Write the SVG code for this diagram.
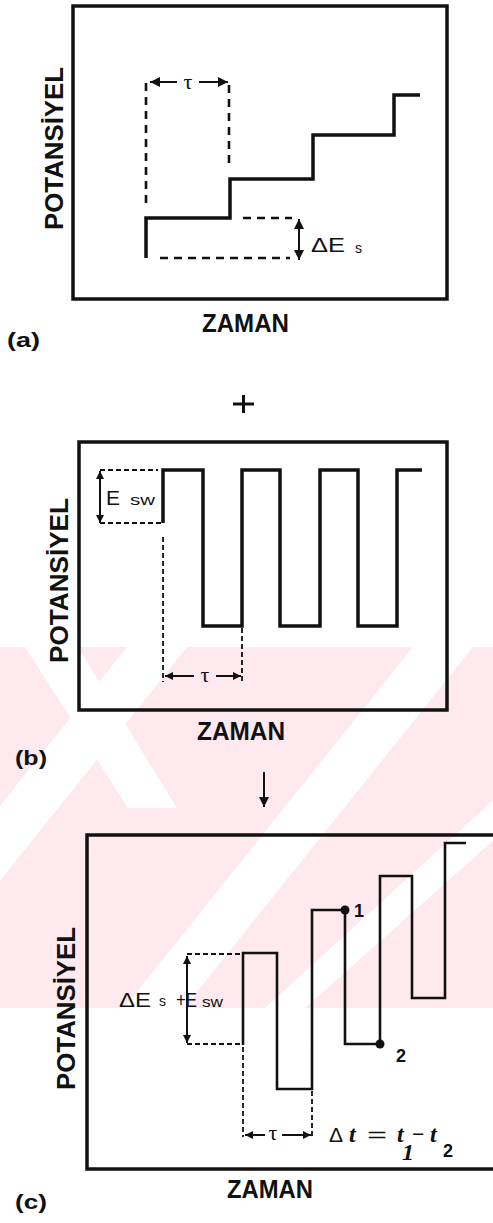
<svg xmlns="http://www.w3.org/2000/svg" width="493" height="1223" viewBox="0 0 493 1223">
<defs>
<style>
.frame{fill:none;stroke:#111;stroke-width:3.5}
.wave{fill:none;stroke:#111;stroke-width:3.5;stroke-linejoin:miter;stroke-linecap:butt}
.wavec{fill:none;stroke:#111;stroke-width:2.6;stroke-linejoin:miter}
.dasha{fill:none;stroke:#111;stroke-width:2.6;stroke-dasharray:8 6}
.dash{fill:none;stroke:#111;stroke-width:1.8;stroke-dasharray:5 3}
.arr{fill:none;stroke:#111;stroke-width:2}
.axis{font-family:"Liberation Sans",Arial,sans-serif;font-weight:bold;font-size:25px;fill:#111}
.tag{font-family:"Liberation Sans",Arial,sans-serif;font-weight:bold;font-size:21px;fill:#111}
.sym{font-family:"Liberation Sans",Arial,sans-serif;font-size:21px;fill:#111}
.sub{font-family:"Liberation Sans",Arial,sans-serif;font-size:14px;fill:#111}
.tau{font-family:"Liberation Serif","Times New Roman",serif;font-size:22px;fill:#111}
.ital{font-family:"Liberation Serif","Times New Roman",serif;font-style:italic;font-weight:bold;font-size:24px;fill:#111}
.num{font-family:"Liberation Sans",Arial,sans-serif;font-weight:bold;font-size:18px;fill:#111}
</style>
<marker id="ah" viewBox="0 0 10 10" refX="10" refY="5" markerWidth="14" markerHeight="10" markerUnits="userSpaceOnUse" orient="auto-start-reverse">
<path d="M0,0 L10,5 L0,10 z" fill="#111"/>
</marker>
<marker id="ahs" viewBox="0 0 10 10" refX="10" refY="5" markerWidth="10" markerHeight="8" markerUnits="userSpaceOnUse" orient="auto-start-reverse">
<path d="M0,0 L10,5 L0,10 z" fill="#111"/>
</marker>
<clipPath id="wmclip"><rect x="0" y="647" width="493" height="361"/></clipPath>
</defs>
<rect width="493" height="1223" fill="#fff"/>
<g id="watermark" clip-path="url(#wmclip)">
<rect x="0" y="647" width="493" height="361" fill="#fde9ee"/>
<polygon points="127,647 187,647 -102,1008 -162,1008" fill="#fff"/>
<polygon points="413,647 473,647 184,1008 124,1008" fill="#fff"/>
<polygon points="661,647 711,647 305,1008 265,1008" fill="#fff"/>
<polygon points="25,647 78,647 177,808 128,808" fill="#fff"/>
</g>
<g id="panel-a">
<rect class="frame" x="73" y="6" width="374" height="293"/>
<path class="wave" d="M146,258 V218 H230 V179 H313 V135 H394 V95 H420"/>
<path class="dasha" d="M146,203 V80 M229,163 V80"/>
<path class="dasha" d="M160,258 H290 M243,218 H292"/>
<line class="arr" x1="150" y1="82" x2="177" y2="82" marker-start="url(#ah)"/>
<line class="arr" x1="199" y1="82" x2="228" y2="82" marker-end="url(#ah)"/>
<text class="tau" x="188" y="89" text-anchor="middle">τ</text>
<line class="arr" x1="299" y1="219" x2="299" y2="260" marker-start="url(#ah)" marker-end="url(#ah)"/>
<text class="sym" x="311" y="252" textLength="34" lengthAdjust="spacingAndGlyphs">ΔE</text>
<text class="sub" x="355" y="253">s</text>
<text class="axis" transform="translate(63,148.5) rotate(-90)" text-anchor="middle" textLength="163" lengthAdjust="spacingAndGlyphs">POTANSİYEL</text>
<text class="axis" x="245.5" y="332" text-anchor="middle" textLength="87" lengthAdjust="spacingAndGlyphs">ZAMAN</text>
<text class="tag" x="7" y="347" textLength="33" lengthAdjust="spacingAndGlyphs">(a)</text>
</g>
<g id="plus">
<path d="M233,404 H254 M243.5,395 V413" stroke="#111" stroke-width="3" fill="none"/>
</g>
<g id="panel-b">
<rect class="frame" x="79" y="442" width="368" height="268"/>
<path class="wave" d="M163,523 V470 H203 V626 H242 V470 H280 V626 H320 V470 H358 V626 H397 V470 H422"/>
<path class="dash" d="M100,470 H158 M100,523 H163 M163,537 V682 M242,628 V682"/>
<line class="arr" x1="100" y1="471" x2="100" y2="523" marker-start="url(#ahs)" marker-end="url(#ahs)"/>
<text class="sym" x="106" y="505" font-size="21">E</text>
<text class="sub" x="130" y="505" textLength="25" lengthAdjust="spacingAndGlyphs">sw</text>
<line class="arr" x1="165" y1="676" x2="194" y2="676" marker-start="url(#ahs)"/>
<line class="arr" x1="216" y1="676" x2="241" y2="676" marker-end="url(#ahs)"/>
<text class="tau" x="205" y="682" text-anchor="middle" font-size="20">τ</text>
<text class="axis" transform="translate(68,580.5) rotate(-90)" text-anchor="middle" textLength="165" lengthAdjust="spacingAndGlyphs">POTANSİYEL</text>
<text class="axis" x="241" y="740" text-anchor="middle" textLength="88" lengthAdjust="spacingAndGlyphs">ZAMAN</text>
<text class="tag" x="15" y="765" textLength="32" lengthAdjust="spacingAndGlyphs">(b)</text>
</g>
<g id="connectors">
<line class="arr" x1="264" y1="772" x2="264" y2="807" marker-end="url(#ah)"/>
</g>
<g id="panel-c">
<rect class="frame" x="87" y="835" width="430" height="334"/>
<path class="wavec" d="M243,1045 V953 H277 V1089 H312 V910 H345 V1044 H380 V876 H412 V998 H445 V843 H466"/>
<path class="dash" d="M187,954 H243 M187,1044 H243 M243,1047 V1137 M312,1091 V1137"/>
<line class="arr" x1="187" y1="956" x2="187" y2="1043" marker-start="url(#ahs)" marker-end="url(#ahs)"/>
<circle cx="345" cy="910" r="4.5" fill="#111"/>
<circle cx="380" cy="1044" r="4.5" fill="#111"/>
<text class="num" x="354" y="917">1</text>
<text class="num" x="396" y="1062">2</text>
<text class="sym" x="119" y="1007" textLength="32" lengthAdjust="spacingAndGlyphs">ΔE</text>
<text class="sub" x="159" y="1006">s</text>
<text class="sym" x="176" y="1007" textLength="21" lengthAdjust="spacingAndGlyphs">+E</text>
<text class="sub" x="202" y="1007" textLength="21" lengthAdjust="spacingAndGlyphs">sw</text>
<line class="arr" x1="245" y1="1135" x2="265" y2="1135" marker-start="url(#ahs)"/>
<line class="arr" x1="282" y1="1135" x2="311" y2="1135" marker-end="url(#ahs)"/>
<text class="tau" x="273" y="1140" text-anchor="middle" font-size="18">τ</text>
<text class="sym" x="329" y="1142" font-size="22">Δ</text>
<text class="ital" x="349" y="1142">t</text>
<text class="sym" x="367" y="1142" textLength="20" lengthAdjust="spacingAndGlyphs">=</text>
<text class="ital" x="397" y="1142">t</text>
<text class="ital" x="402" y="1160" font-size="15">1</text>
<text class="sym" x="412" y="1141">−</text>
<text class="ital" x="430" y="1142">t</text>
<text class="num" x="443" y="1157" font-size="20">2</text>
<text class="axis" transform="translate(75,1008.5) rotate(-90)" text-anchor="middle" textLength="163" lengthAdjust="spacingAndGlyphs">POTANSİYEL</text>
<text class="axis" x="270" y="1198" text-anchor="middle" textLength="86" lengthAdjust="spacingAndGlyphs">ZAMAN</text>
<text class="tag" x="15" y="1209" textLength="32" lengthAdjust="spacingAndGlyphs">(c)</text>
</g>
</svg>
